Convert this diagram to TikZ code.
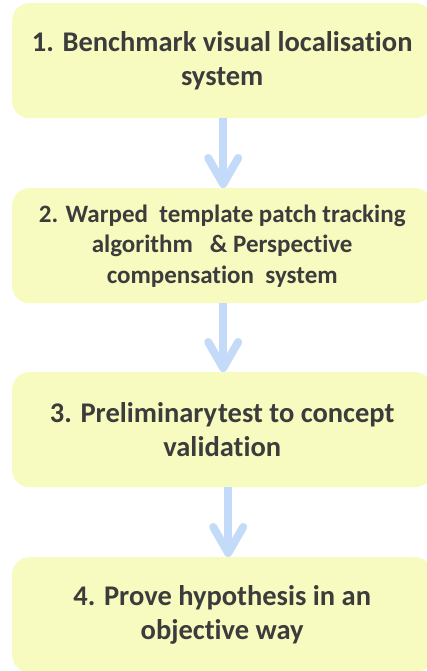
\documentclass[tikz,border=0pt]{standalone}
\usepackage{fontspec}
\setmainfont{Carlito}[Ligatures=NoCommon]
\usetikzlibrary{arrows.meta}
\definecolor{boxfill}{HTML}{F8FBC0}
\definecolor{flowblue}{HTML}{C4DAF9}
\definecolor{ink}{HTML}{3C3C3C}

\begin{document}
\begin{tikzpicture}[x=1pt,y=-1pt,
  stepbox/.style={fill=boxfill, rounded corners=17pt, minimum width=420pt,
    minimum height=115pt, text=ink, align=center, inner sep=0pt,
    anchor=north west, font=\bfseries\fontsize{28.5}{34.5}\selectfont},
  smalltext/.style={font=\bfseries\fontsize{25}{30.5}\selectfont},
  flow/.style={draw=flowblue, line width=8pt,
    -{Straight Barb[length=26pt, width=30pt, round]}}]
\useasboundingbox (0,0) rectangle (426,671);

% the four stages
\node[stepbox] (b1) at (12,3) {1. Benchmark visual localisation\\system};
\node[stepbox, smalltext] (b2) at (12,188)
  {2. Warped\ \ template patch tracking\\algorithm\ \ \ \& Perspective\\compensation\ \ system};
\node[stepbox] (b3) at (12,372) {3. Preliminary\kern1pt test to concept\\validation};
\node[stepbox] (b4) at (12,557) {4. Prove hypothesis in an\\objective way};

% flow arrows between stages
\draw[flow] (b1.south) ++(1,0) coordinate (a1s) (a1s) -- (a1s |- b2.north);
\draw[flow] (b2.south) ++(1,0) coordinate (a2s) (a2s) -- (a2s |- b3.north);
\draw[flow] (b3.south) ++(6,0) coordinate (a3s) (a3s) -- (a3s |- b4.north);
\end{tikzpicture}
\end{document}
